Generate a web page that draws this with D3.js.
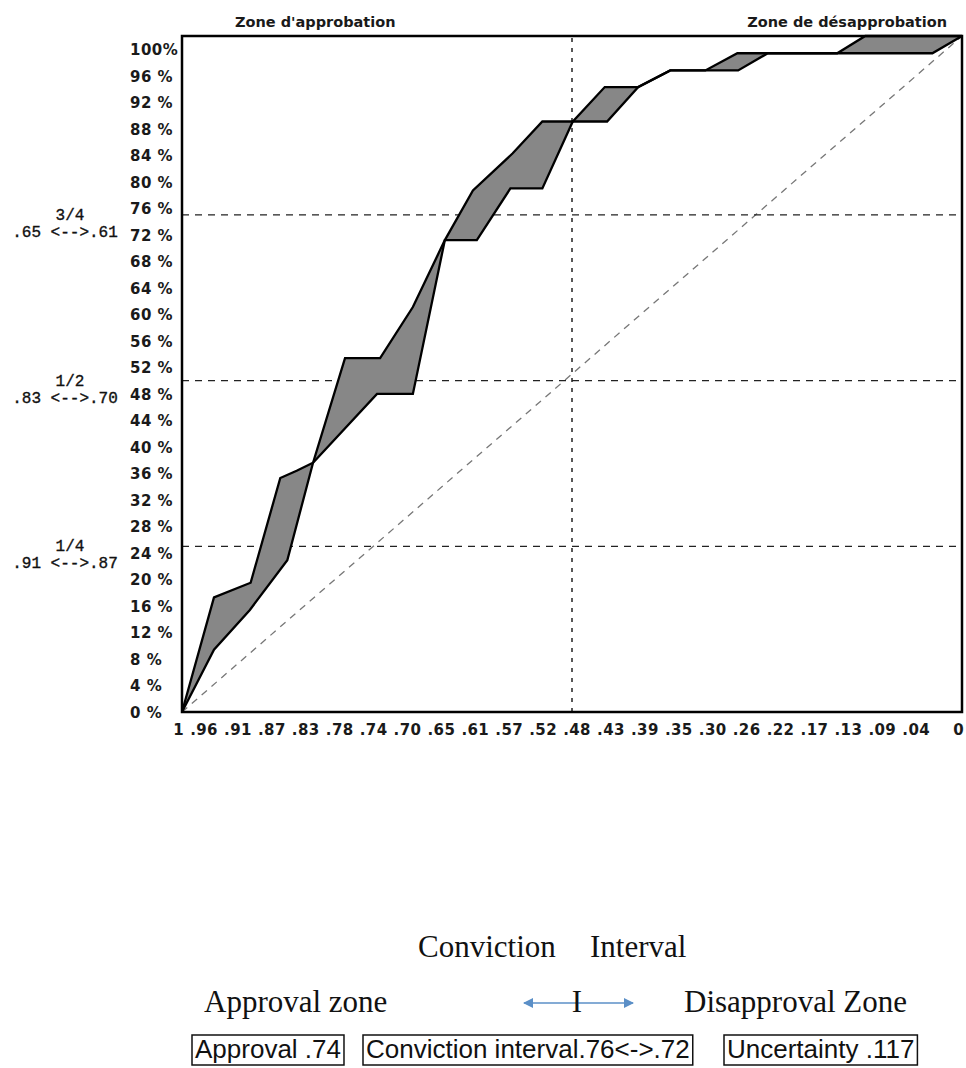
<!DOCTYPE html>
<html>
<head>
<meta charset="utf-8">
<script src="https://cdn.jsdelivr.net/npm/d3@7"></script>
<style>
  html, body { margin: 0; padding: 0; background: #fff; }
  svg { display: block; }
  .tick text { font-family: "DejaVu Sans", Verdana, sans-serif; font-weight: bold; font-size: 15px; fill: #1a1a1a; }
</style>
</head>
<body>
<svg id="chart" width="966" height="1068"></svg>
<script>
// Valeurs
var xTickLabels = ["1", ".96", ".91", ".87", ".83", ".78", ".74", ".70", ".65", ".61", ".57", ".52",
                   ".48", ".43", ".39", ".35", ".30", ".26", ".22", ".17", ".13", ".09", ".04", "0"];
var yTickValues = [0, 4, 8, 12, 16, 20, 24, 28, 32, 36, 40, 44, 48, 52, 56, 60, 64, 68, 72, 76, 80, 84, 88, 92, 96, 100];

var quartiles = [0.25, 0.5, 0.75];
var quartileNames = ["1/4", "1/2", "3/4"];
var quartileRanges = [".91 <-->.87", ".83 <-->.70", ".65 <-->.61"];
var middleMark = 0.5;

// courbe haute (bord gauche de la zone grise) : [conviction, part cumulée]
var upperCurve = [[1, 0], [0.959, 0.173], [0.912, 0.195], [0.874, 0.353], [0.853, 0.364], [0.832, 0.376],
                  [0.791, 0.534], [0.746, 0.534], [0.704, 0.611], [0.663, 0.712], [0.627, 0.787], [0.576, 0.843],
                  [0.538, 0.891], [0.499, 0.891], [0.458, 0.943], [0.415, 0.943], [0.374, 0.968], [0.329, 0.968],
                  [0.288, 0.994], [0.160, 0.994], [0.124, 1.02], [0, 1.02]];
// courbe basse (bord droit de la zone grise)
var lowerCurve = [[1, 0], [0.959, 0.094], [0.913, 0.154], [0.865, 0.229], [0.832, 0.376], [0.750, 0.480],
                  [0.704, 0.480], [0.663, 0.712], [0.622, 0.712], [0.579, 0.790], [0.538, 0.790], [0.499, 0.891],
                  [0.455, 0.891], [0.415, 0.943], [0.374, 0.968], [0.287, 0.968], [0.249, 0.994], [0.038, 0.994],
                  [0, 1.02]];

var zoneTitles = ["Zone d'approbation", "Zone de désapprobation"];
var legendTitle = ["Conviction", "Interval"];
var legendZones = ["Approval zone", "Disapproval Zone"];
var legendBoxes = ["Approval .74", "Conviction interval.76<->.72", "Uncertainty .117"];

var yTop = 1.02; // le cadre monte un peu au-dessus de 100%

var svg = d3.select("#chart");

// Echelles
var x = d3.scaleLinear().domain([1, 0]).range([182, 962]);
var y = d3.scaleLinear().domain([0, yTop]).range([712, 36]);
var xLabels = d3.scalePoint().domain(xTickLabels).range([x(1), x(0)]);

// Titres des zones
svg.append("text")
  .attr("x", 235).attr("y", 27)
  .style("font-family", "DejaVu Sans, sans-serif").style("font-weight", "bold").style("font-size", "14.5px")
  .style("fill", "#1a1a1a")
  .text(zoneTitles[0]);
svg.append("text")
  .attr("x", 947).attr("y", 27).attr("text-anchor", "end")
  .style("font-family", "DejaVu Sans, sans-serif").style("font-weight", "bold").style("font-size", "14.5px")
  .style("fill", "#1a1a1a")
  .text(zoneTitles[1]);

// Diagonale de référence
svg.append("line")
  .attr("x1", x(1)).attr("y1", y(0))
  .attr("x2", x(0)).attr("y2", y(yTop))
  .attr("stroke", "#777").attr("stroke-width", 1.3).attr("stroke-dasharray", "7,6");

// Lignes des quartiles
svg.selectAll(".quart")
  .data(quartiles)
  .enter()
  .append("line")
  .attr("class", "quart")
  .attr("x1", x(1)).attr("x2", x(0))
  .attr("y1", function(d) { return y(d); })
  .attr("y2", function(d) { return y(d); })
  .attr("stroke", "#222").attr("stroke-width", 1.3).attr("stroke-dasharray", "7,6");

// Ligne verticale du milieu
svg.append("line")
  .attr("x1", x(middleMark)).attr("x2", x(middleMark))
  .attr("y1", y(0)).attr("y2", y(yTop))
  .attr("stroke", "#222").attr("stroke-width", 1.5).attr("stroke-dasharray", "4,6");

// Zone grise entre les deux courbes
var line = d3.line()
  .x(function(d) { return x(d[0]); })
  .y(function(d) { return y(d[1]); });

svg.append("path")
  .attr("d", line(upperCurve.concat(lowerCurve.slice().reverse())) + "Z")
  .attr("fill", "#878787")
  .attr("stroke", "none");

svg.selectAll(".curve")
  .data([upperCurve, lowerCurve])
  .enter()
  .append("path")
  .attr("class", "curve")
  .attr("d", line)
  .attr("fill", "none")
  .attr("stroke", "#000")
  .attr("stroke-width", 2.3)
  .attr("stroke-linejoin", "miter");

// Cadre
svg.append("rect")
  .attr("x", x(1)).attr("y", y(yTop))
  .attr("width", x(0) - x(1)).attr("height", y(0) - y(yTop))
  .attr("fill", "none").attr("stroke", "#000").attr("stroke-width", 2.5);

// Axe gauche (étiquettes alignées à gauche)
var yAxis = d3.axisLeft(y)
  .tickValues(yTickValues.map(function(v) { return v / 100; }))
  .tickSize(0)
  .tickFormat(function(d) {
    var v = Math.round(d * 100);
    return v === 100 ? "100%" : v + " %";
  });
var gy = svg.append("g").call(yAxis);
gy.select(".domain").remove();
gy.selectAll("text")
  .attr("x", 130)
  .attr("dy", "0.36em")
  .attr("text-anchor", "start")
  .style("letter-spacing", "0.5px");

// Axe du bas
var xAxis = d3.axisBottom(xLabels).tickSize(0);
var gx = svg.append("g").attr("transform", "translate(0," + y(0) + ")").call(xAxis);
gx.select(".domain").remove();
gx.selectAll("text")
  .attr("x", 1.5)
  .attr("y", 12)
  .attr("text-anchor", "end")
  .style("letter-spacing", "0.4px");

// Étiquettes des quartiles à gauche
var qLab = svg.selectAll(".qlab")
  .data(quartiles)
  .enter()
  .append("g")
  .attr("class", "qlab")
  .style("font-family", "Liberation Mono, monospace")
  .style("font-size", "16px")
  .style("fill", "#111")
  .style("stroke", "#111")
  .style("stroke-width", 0.35);
qLab.append("text")
  .attr("x", 70)
  .attr("y", function(d) { return y(d) + 5; })
  .attr("text-anchor", "middle")
  .text(function(d, i) { return quartileNames[i]; });
qLab.append("text")
  .attr("x", 65)
  .attr("y", function(d) { return y(d) + 22; })
  .attr("text-anchor", "middle")
  .text(function(d, i) { return quartileRanges[i]; });

// Légende du bas
var serif = "Liberation Serif, Times New Roman, serif";
svg.append("text").attr("x", 418).attr("y", 957)
  .style("font-family", serif).style("font-size", "31px").style("fill", "#111")
  .text(legendTitle[0]);
svg.append("text").attr("x", 590).attr("y", 957)
  .style("font-family", serif).style("font-size", "31px").style("fill", "#111")
  .text(legendTitle[1]);
svg.append("text").attr("x", 204).attr("y", 1012)
  .style("font-family", serif).style("font-size", "31px").style("fill", "#111")
  .text(legendZones[0]);
svg.append("text").attr("x", 684).attr("y", 1012)
  .style("font-family", serif).style("font-size", "31px").style("fill", "#111")
  .text(legendZones[1]);

// Flèche bleue double
svg.append("defs").append("marker")
  .attr("id", "head")
  .attr("viewBox", "0 0 10 10")
  .attr("refX", 9).attr("refY", 5)
  .attr("markerWidth", 15).attr("markerHeight", 10)
  .attr("markerUnits", "userSpaceOnUse")
  .attr("orient", "auto-start-reverse")
  .append("path")
  .attr("d", "M0,0L10,5L0,10Z")
  .attr("fill", "#5b8fc7");
svg.append("line")
  .attr("x1", 524).attr("x2", 633).attr("y1", 1003).attr("y2", 1003)
  .attr("stroke", "#5b8fc7").attr("stroke-width", 1.6)
  .attr("marker-start", "url(#head)").attr("marker-end", "url(#head)");
svg.append("text").attr("x", 577).attr("y", 1012).attr("text-anchor", "middle")
  .style("font-family", serif).style("font-size", "31px").style("fill", "#111")
  .text("I");

// Encadrés
var boxX = [195, 366, 727];
var boxes = svg.selectAll(".box")
  .data(legendBoxes)
  .enter()
  .append("g")
  .attr("class", "box");
boxes.append("text")
  .attr("x", function(d, i) { return boxX[i]; })
  .attr("y", 1058)
  .style("font-family", "Liberation Sans, Arial, sans-serif")
  .style("font-size", "26px")
  .style("fill", "#111")
  .text(function(d) { return d; });
boxes.each(function() {
  var g = d3.select(this);
  var bb = g.select("text").node().getBBox();
  g.insert("rect", "text")
    .attr("x", bb.x - 3).attr("y", 1035)
    .attr("width", bb.width + 6).attr("height", 30)
    .attr("fill", "none").attr("stroke", "#111").attr("stroke-width", 1.5);
});
</script>
</body>
</html>
